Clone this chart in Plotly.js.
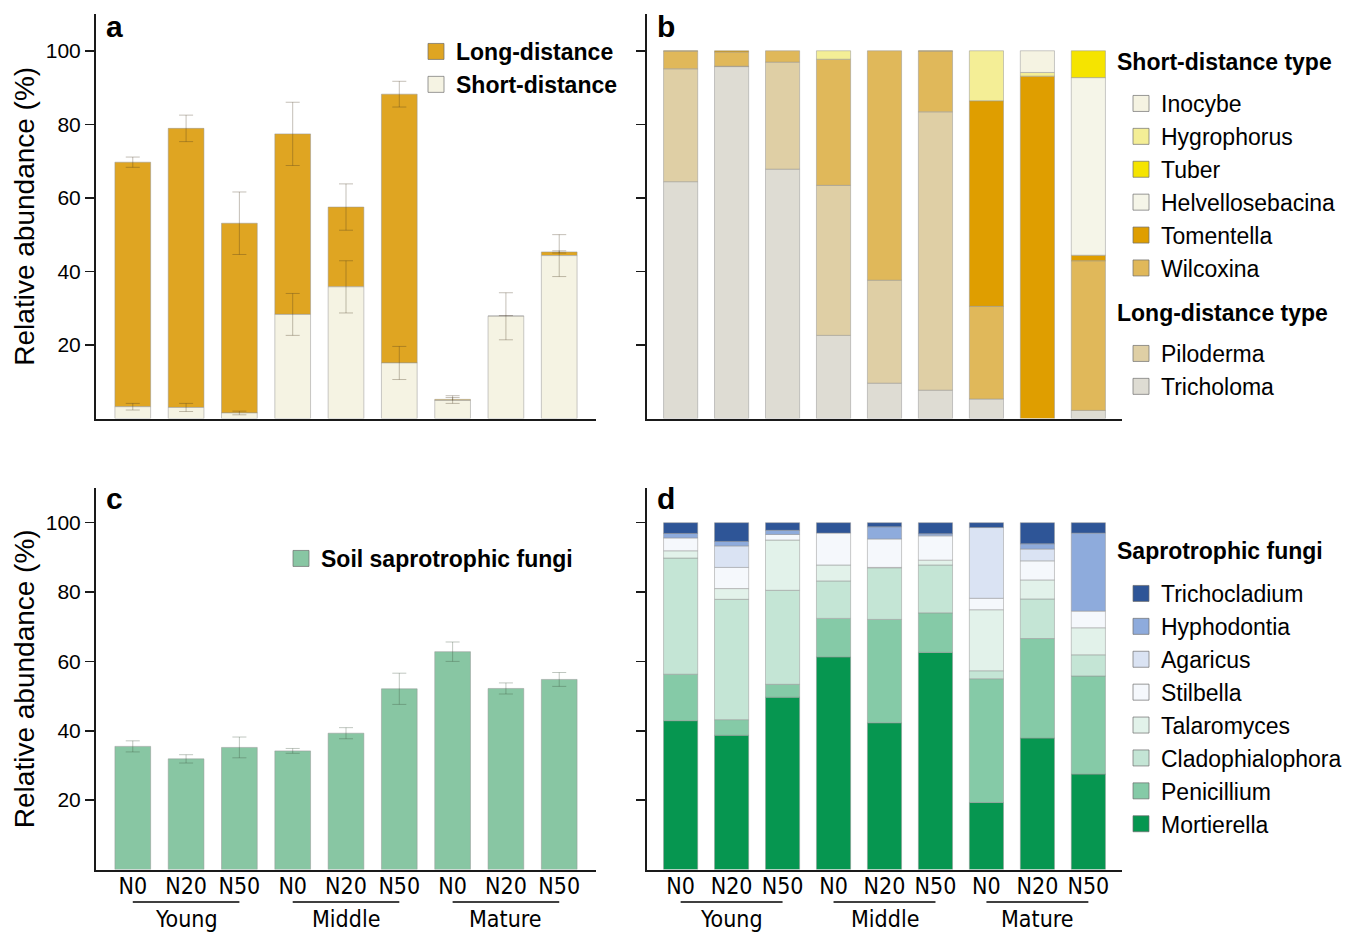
<!DOCTYPE html>
<html><head><meta charset="utf-8">
<script src="https://cdn.plot.ly/plotly-3.0.1.min.js"></script>
<style>html,body{margin:0;padding:0;background:#fff}#chart{width:1362px;height:932px}</style>
</head><body><div id="chart"></div>
<script>
// ---------- data ----------
const groups = ['Young', 'Middle', 'Mature'];
const treatments = ['N0', 'N20', 'N50'];

// panel a (mean, sd)
const shortDist = [3.2, 3.0, 1.5, 28.3, 35.8, 15.1, 4.9, 27.8, 44.3];
const shortErr  = [0.9, 1.1, 0.5, 5.7, 7.1, 4.5, 0.8, 6.4, 5.7];
const longDist  = [66.5, 75.9, 51.6, 49.1, 21.7, 73.1, 0.3, 0.1, 1.0];
const longErr   = [1.4, 3.6, 8.5, 8.6, 6.3, 3.5, 1.0, 0.0, 0.3];

// panel b (stack, bottom to top)
const tricholoma       = [64.4, 95.7, 67.8, 22.6, 9.6, 7.7, 5.3, 0, 2.2];
const piloderma        = [30.7, 0.1, 29.1, 40.8, 28.0, 75.7, 0, 0, 0];
const wilcoxina        = [4.8, 3.9, 3.1, 34.3, 62.4, 16.5, 25.2, 0, 40.7];
const tomentella       = [0.1, 0.3, 0, 0, 0, 0.1, 55.9, 93.1, 1.5];
const helvellosebacina = [0, 0, 0, 0, 0, 0, 0, 0, 48.3];
const tuber            = [0, 0, 0, 0, 0, 0, 0, 0, 7.3];
const hygrophorus      = [0, 0, 0, 2.3, 0, 0, 13.6, 1.0, 0];
const inocybe          = [0, 0, 0, 0, 0, 0, 0, 5.9, 0];

// panel c
const soilSap    = [35.5, 31.9, 35.2, 34.2, 39.3, 52.1, 62.8, 52.2, 54.8];
const soilSapErr = [1.6, 1.2, 3.0, 0.7, 1.6, 4.5, 2.8, 1.6, 2.0];

// panel d (stack, bottom to top)
const mortierella      = [42.9, 38.7, 49.7, 61.3, 42.3, 62.6, 19.3, 37.9, 27.5];
const penicillium      = [13.4, 4.5, 3.7, 11.1, 29.8, 11.4, 35.7, 28.7, 28.3];
const cladophialophora = [33.5, 34.7, 27.1, 10.8, 14.9, 13.8, 2.3, 11.4, 6.1];
const talaromyces      = [2.1, 3.1, 14.5, 4.6, 0.1, 1.4, 17.6, 5.5, 7.8];
const stilbella        = [3.7, 6.1, 1.6, 9.2, 8.2, 7.0, 3.3, 5.5, 4.8];
const agaricus         = [0, 6.2, 0, 0, 0, 0, 20.4, 3.4, 0];
const hyphodontia      = [1.3, 1.3, 1.2, 0, 3.5, 0.6, 0, 1.5, 22.5];
const trichocladium    = [3.1, 5.4, 2.2, 3.0, 1.2, 3.2, 1.4, 6.1, 3.0];

// ---------- build ----------
const cats = [];
groups.forEach(g => treatments.forEach(t => cats.push(g + ' ' + t)));
const tickText = cats.map(c => c.split(' ')[1]);

const FONT = 'Liberation Sans, Arial, sans-serif';
const COND = 'DejaVu Sans Condensed, Liberation Sans Narrow, Arial Narrow, sans-serif';
const EDGE = 'rgba(150,150,150,0.5)';
const ERRC = 'rgba(70,55,30,0.32)';

const traces = [];

// legend swatch entries (legend only)
function swatch(name, color, leg, xa, ya) {
  traces.push({
    type: 'scatter', mode: 'markers', x: [null], y: [null], name: name, legend: leg,
    xaxis: xa, yaxis: ya, hoverinfo: 'skip',
    marker: {symbol: 'square', size: 16, color: color, line: {color: 'rgba(110,110,110,0.7)', width: 1}}
  });
}

// panel a
traces.push({
  type: 'bar', x: cats, y: longDist, base: shortDist, name: 'Long-distance', showlegend: false,
  xaxis: 'x', yaxis: 'y',
  marker: {color: '#DFA522', line: {color: EDGE, width: 1}},
  error_y: {type: 'data', array: longErr, color: ERRC, thickness: 1, width: 7}
});
traces.push({
  type: 'bar', x: cats, y: shortDist, name: 'Short-distance', showlegend: false,
  xaxis: 'x', yaxis: 'y',
  marker: {color: '#F5F3E3', line: {color: EDGE, width: 1}},
  error_y: {type: 'data', array: shortErr, color: ERRC, thickness: 1, width: 7}
});
swatch('Long-distance', '#DFA522', 'legend', 'x', 'y');
swatch('Short-distance', '#F5F3E3', 'legend', 'x', 'y');

// stacked helper
function addStack(series, xa, ya) {
  const base = cats.map(() => 0);
  series.forEach(s => {
    traces.push({
      type: 'bar', x: cats, y: s.v.map(v => v || null), base: base.slice(), name: s.name,
      xaxis: xa, yaxis: ya, showlegend: false,
      marker: {color: s.color, line: {color: EDGE, width: 1}}
    });
    s.v.forEach((v, i) => base[i] += v);
  });
  // legend entries listed top to bottom (reverse of stack order)
  series.slice().reverse().forEach(s => swatch(s.name, s.color, s.leg, xa, ya));
}

addStack([
  {name: 'Tricholoma', v: tricholoma, color: '#DEDCD3', leg: 'legend5'},
  {name: 'Piloderma', v: piloderma, color: '#DFCFA5', leg: 'legend5'},
  {name: 'Wilcoxina', v: wilcoxina, color: '#E0B85A', leg: 'legend3'},
  {name: 'Tomentella', v: tomentella, color: '#DF9E00', leg: 'legend3'},
  {name: 'Helvellosebacina', v: helvellosebacina, color: '#F5F5E8', leg: 'legend3'},
  {name: 'Tuber', v: tuber, color: '#F5E400', leg: 'legend3'},
  {name: 'Hygrophorus', v: hygrophorus, color: '#F4EE96', leg: 'legend3'},
  {name: 'Inocybe', v: inocybe, color: '#F5F3E2', leg: 'legend3'}
], 'x2', 'y2');

// panel c
traces.push({
  type: 'bar', x: cats, y: soilSap, name: 'Soil saprotrophic fungi', showlegend: false,
  xaxis: 'x3', yaxis: 'y3',
  marker: {color: '#88C6A3', line: {color: EDGE, width: 1}},
  error_y: {type: 'data', array: soilSapErr, color: 'rgba(60,80,60,0.32)', thickness: 1, width: 7}
});
swatch('Soil saprotrophic fungi', '#88C6A3', 'legend2', 'x3', 'y3');

addStack([
  {name: 'Mortierella', v: mortierella, color: '#069650', leg: 'legend4'},
  {name: 'Penicillium', v: penicillium, color: '#85CAA7', leg: 'legend4'},
  {name: 'Cladophialophora', v: cladophialophora, color: '#C4E5D5', leg: 'legend4'},
  {name: 'Talaromyces', v: talaromyces, color: '#E2F2EA', leg: 'legend4'},
  {name: 'Stilbella', v: stilbella, color: '#F5F8FC', leg: 'legend4'},
  {name: 'Agaricus', v: agaricus, color: '#DAE3F3', leg: 'legend4'},
  {name: 'Hyphodontia', v: hyphodontia, color: '#8EABDC', leg: 'legend4'},
  {name: 'Trichocladium', v: trichocladium, color: '#2E5597', leg: 'legend4'}
], 'x4', 'y4');

// ---------- layout ----------
const W = 1362, H = 932;
const px = v => v / W, py = v => 1 - v / H;
const domA = [px(96), px(596)], domB = [px(647), px(1122)];
const domTop = [py(418.5), py(14)], domBot = [py(869.5), py(488)];

function xAx(dom, anchor, labels, rng) {
  return {
    domain: dom, anchor: anchor, type: 'category', categoryorder: 'array', categoryarray: cats,
    range: rng, showline: true, linecolor: '#1a1a1a', linewidth: 2, ticks: '',
    showgrid: false, zeroline: false, tickangle: 0, ticklabelstandoff: -5,
    showticklabels: labels, tickvals: cats, ticktext: tickText,
    tickfont: {family: COND, size: 23, color: '#000'}
  };
}
function yAx(dom, anchor, labels, title) {
  return {
    domain: dom, anchor: anchor, range: [0, 110], showline: true, linecolor: '#1a1a1a', linewidth: 2,
    ticks: 'outside', ticklen: 9, tickwidth: 1.5, tickcolor: '#1a1a1a', showgrid: false, zeroline: false,
    tickvals: [20, 40, 60, 80, 100], showticklabels: labels,
    tickfont: {family: FONT, size: 21, color: '#000'},
    title: title ? {text: 'Relative abundance (%)', font: {family: FONT, size: 28, color: '#000'}, standoff: 3} : undefined
  };
}

const shapes = [], annotations = [];
['x3', 'x4'].forEach(xr => {
  groups.forEach((g, gi) => {
    shapes.push({type: 'line', xref: xr, yref: 'paper', x0: cats[gi * 3], x1: cats[gi * 3 + 2],
      y0: py(902), y1: py(902), line: {color: '#000', width: 1.5}});
    annotations.push({xref: xr, yref: 'paper', x: cats[gi * 3 + 1], y: py(919), text: g, showarrow: false,
      xanchor: 'center', yanchor: 'middle', font: {family: COND, size: 23, color: '#000'}});
  });
});
[['a', 104, 26], ['b', 655, 26], ['c', 104, 498], ['d', 655, 498]].forEach(l => {
  annotations.push({xref: 'paper', yref: 'paper', x: px(l[1]), y: py(l[2]), text: '<b>' + l[0] + '</b>',
    showarrow: false, xanchor: 'left', yanchor: 'middle', font: {family: FONT, size: 30, color: '#000'}});
});
[['Short-distance type', 62], ['Long-distance type', 313], ['Saprotrophic fungi', 551]].forEach(t => {
  annotations.push({xref: 'paper', yref: 'paper', x: px(1115), y: py(t[1]), text: '<b>' + t[0] + '</b>',
    showarrow: false, xanchor: 'left', yanchor: 'middle', font: {family: FONT, size: 23, color: '#000'}});
});

const legBase = {bgcolor: 'rgba(0,0,0,0)', borderwidth: 0, xanchor: 'left', yanchor: 'top', itemwidth: 30,
  itemclick: false, itemdoubleclick: false, traceorder: 'normal', tracegroupgap: 0};
const plainFont = {family: FONT, size: 23, color: '#000'};
const boldFont = {family: FONT, size: 23, weight: 'bold', color: '#000'};
const layout = {
  width: W, height: H, margin: {l: 0, r: 0, t: 0, b: 0}, paper_bgcolor: '#fff', plot_bgcolor: 'rgba(0,0,0,0)',
  font: {family: FONT, color: '#000'},
  barmode: 'overlay', bargap: 0.33,
  xaxis: xAx(domA, 'y', false, [-0.69, 8.69]),
  yaxis: yAx(domTop, 'x', true, true),
  xaxis2: xAx(domB, 'y2', false, [-0.66, 8.66]),
  yaxis2: yAx(domTop, 'x2', false, false),
  xaxis3: xAx(domA, 'y3', true, [-0.69, 8.69]),
  yaxis3: yAx(domBot, 'x3', true, true),
  xaxis4: xAx(domB, 'y4', true, [-0.66, 8.66]),
  yaxis4: yAx(domBot, 'x4', false, false),
  legend: Object.assign({}, legBase, {x: px(416), y: py(30), font: boldFont}),
  legend2: Object.assign({}, legBase, {x: px(281), y: py(537), font: boldFont}),
  legend3: Object.assign({}, legBase, {x: px(1121), y: py(82), font: plainFont}),
  legend5: Object.assign({}, legBase, {x: px(1121), y: py(332), font: plainFont}),
  legend4: Object.assign({}, legBase, {x: px(1121), y: py(572), font: plainFont}),
  shapes: shapes, annotations: annotations
};

Plotly.newPlot('chart', traces, layout, {displayModeBar: false, staticPlot: true});
</script></body></html>
